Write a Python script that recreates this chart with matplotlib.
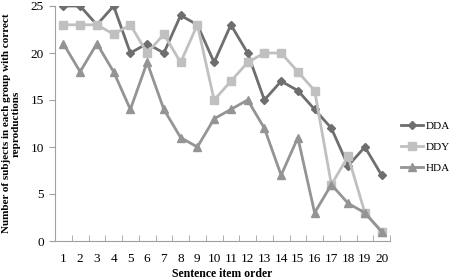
import matplotlib
matplotlib.use("Agg")
import matplotlib.pyplot as plt

items = list(range(1, 21))
dda = [25, 25, 23, 25, 20, 21, 20, 24, 23, 19, 23, 20, 15, 17, 16, 14, 12, 8, 10, 7]
ddy = [23, 23, 23, 22, 23, 20, 22, 19, 23, 15, 17, 19, 20, 20, 18, 16, 6, 9, 3, 1]
hda = [21, 18, 21, 18, 14, 19, 14, 11, 10, 13, 14, 15, 12, 7, 11, 3, 6, 4, 3, 1]
yticks = [0, 5, 10, 15, 20, 25]

plt.rcParams['font.family'] = ['Liberation Serif', 'DejaVu Serif']

fig = plt.figure(figsize=(4.54, 2.8), dpi=100)
ax = fig.add_axes([55/454, 1-241/280, 335/454, 235/280])

ax.plot(items, dda, color='#6e6e6e', marker='D', markersize=4.5, lw=2, label='DDA')
ax.plot(items, ddy, color='#c0c0c0', marker='s', markersize=5.5, lw=2, label='DDY')
ax.plot(items, hda, color='#949494', marker='^', markersize=5.5, lw=2, label='HDA')

ax.set_xlim(0.5, 20.5)
ax.set_ylim(0, 25)
ax.set_yticks(yticks)
ax.set_xticks(items)
ax.set_xticks([i + 0.5 for i in range(0, 21)], minor=True)
ax.tick_params(axis='x', which='major', length=0, pad=9, labelsize=9.5)
ax.tick_params(axis='x', which='minor', length=4, color='#a0a0a0', direction='in')
ax.tick_params(axis='y', length=4, color='#a0a0a0', labelsize=9.5, pad=4)
for s in ['top', 'right']:
    ax.spines[s].set_visible(False)
for s in ['left', 'bottom']:
    ax.spines[s].set_color('#a0a0a0')
    ax.spines[s].set_linewidth(0.8)

ax.set_xlabel('Sentence item order', fontweight='bold', fontsize=8.5, labelpad=2)
ax.set_ylabel('Number of subjects in each group with correct\nreproductions',
              fontweight='bold', fontsize=8, labelpad=7, linespacing=1.15)

ax.legend(loc='upper left', bbox_to_anchor=(401/454, 1-121/280), bbox_transform=fig.transFigure,
          frameon=False, fontsize=8, handlelength=2.0, handletextpad=0.2, labelspacing=1.0,
          borderaxespad=0, borderpad=0)

fig.savefig('out.png', dpi=100)
